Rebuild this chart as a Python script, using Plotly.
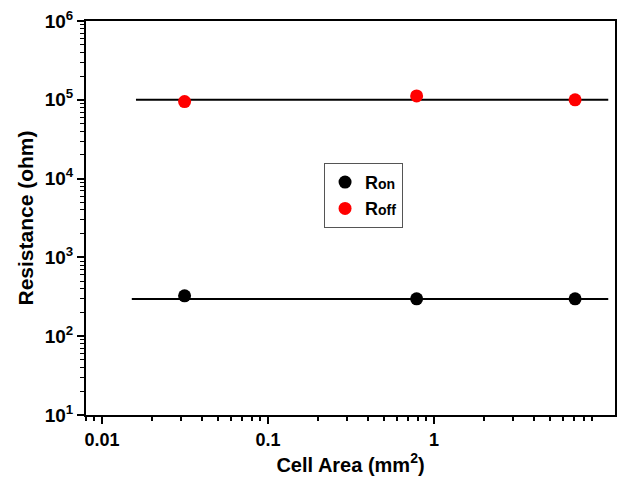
import plotly.graph_objects as go
import numpy as np

# Data
cell_area = [0.0314, 0.785, 7.07]          # mm^2
r_on = [325, 298, 298]                     # ohm
r_off = [95000, 112000, 100000]            # ohm
fit_on_x = [0.0151, 11.2]
fit_on_y = [297, 297]
fit_off_x = [0.016, 11.2]
fit_off_y = [100000, 100000]

x_major = [0.01, 0.1, 1]
x_major_text = ["<b>0.01</b>", "<b>0.1</b>", "<b>1</b>"]
y_major = [1e1, 1e2, 1e3, 1e4, 1e5, 1e6]
y_major_text = ["<b>10<sup>1</sup></b>", "<b>10<sup>2</sup></b>", "<b>10<sup>3</sup></b>",
                "<b>10<sup>4</sup></b>", "<b>10<sup>5</sup></b>", "<b>10<sup>6</sup></b>"]

x_minor = [m * 10.0 ** e for e in range(-3, 1) for m in range(2, 10)]
y_minor = [m * 10.0 ** e for e in range(1, 6) for m in range(2, 10)]

FONT = "Liberation Sans, Arial, sans-serif"

fig = go.Figure()
fig.add_trace(go.Scatter(x=fit_on_x, y=fit_on_y, mode="lines",
                         line=dict(color="black", width=2), showlegend=False))
fig.add_trace(go.Scatter(x=fit_off_x, y=fit_off_y, mode="lines",
                         line=dict(color="black", width=2), showlegend=False))
fig.add_trace(go.Scatter(x=cell_area, y=r_on, mode="markers",
                         marker=dict(color="black", size=13),
                         name="<b>R<span style='font-size:14px'>on</span></b>"))
fig.add_trace(go.Scatter(x=cell_area, y=r_off, mode="markers",
                         marker=dict(color="#ff0000", size=13),
                         name="<b>R<span style='font-size:14px'>off</span></b>"))

fig.update_layout(
    width=625, height=485,
    margin=dict(l=86, r=8, t=20, b=70),
    paper_bgcolor="white", plot_bgcolor="white",
    font=dict(family=FONT, color="black"),
    legend=dict(x=0.45, y=0.64, xanchor="left", yanchor="top",
                bordercolor="#555555", borderwidth=1, bgcolor="white",
                font=dict(family=FONT, size=18, color="black"),
                itemwidth=30, tracegroupgap=0),
)

fig.update_xaxes(
    type="log", range=[np.log10(0.008), np.log10(12.3)],
    showline=True, linecolor="black", linewidth=2, mirror=True,
    showgrid=False, zeroline=False,
    tickmode="array", tickvals=x_major, ticktext=x_major_text,
    ticks="outside", ticklen=7, tickwidth=2, tickcolor="black",
    tickfont=dict(family=FONT, size=18, color="black"),
    minor=dict(tickmode="array", tickvals=x_minor, ticks="outside",
               ticklen=4, tickwidth=1.5, tickcolor="black"),
    title=dict(text="<b>Cell Area (mm<sup>2</sup>)</b>",
               font=dict(family=FONT, size=20, color="black"), standoff=9),
)
fig.update_yaxes(
    type="log", range=[1, 6],
    showline=True, linecolor="black", linewidth=2, mirror=True,
    showgrid=False, zeroline=False,
    tickmode="array", tickvals=y_major, ticktext=y_major_text,
    ticks="outside", ticklen=7, tickwidth=2, tickcolor="black",
    tickfont=dict(family=FONT, size=19, color="black"),
    minor=dict(tickmode="array", tickvals=y_minor, ticks="outside",
               ticklen=4, tickwidth=1.2, tickcolor="black"),
    title=dict(text="<b>Resistance (ohm)</b>",
               font=dict(family=FONT, size=21, color="black"), standoff=5),
)

fig.write_html("out.html")
